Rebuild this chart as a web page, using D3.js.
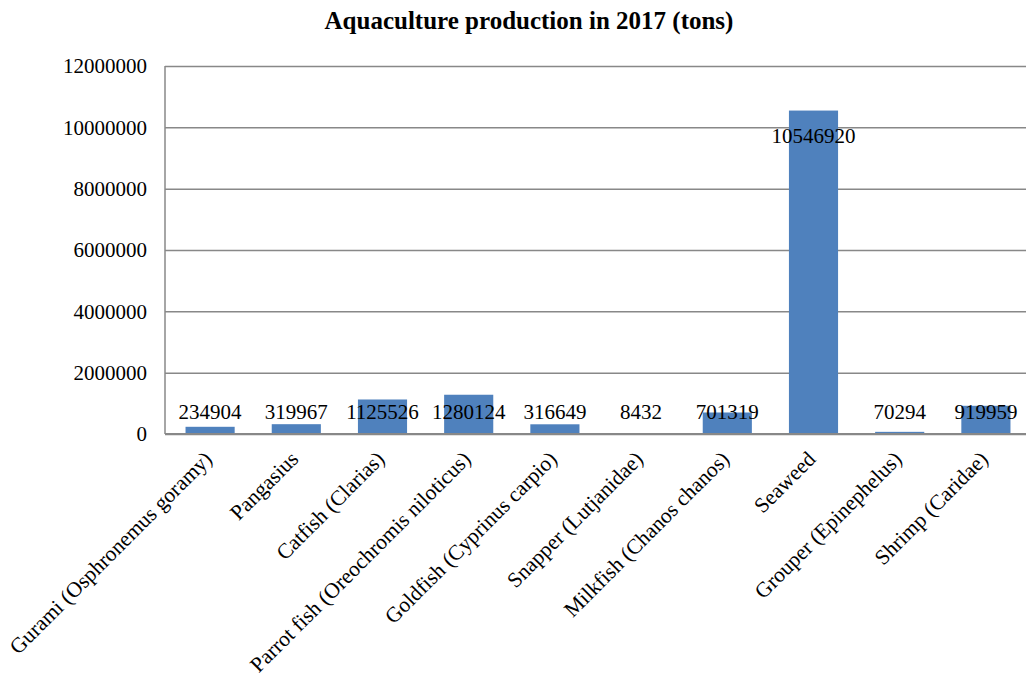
<!DOCTYPE html>
<html>
<head>
<meta charset="utf-8">
<script src="https://cdnjs.cloudflare.com/ajax/libs/d3/7.8.5/d3.min.js"></script>
<style>
  body { margin: 0; background: #fff; }
  svg { display: block; font-family: "Liberation Serif", "Times New Roman", serif; }
  .y-grid .domain { display: none; }
  .y-grid line { stroke: #888; stroke-width: 1.5px; }
  .y-grid text { font-size: 21px; fill: #000; }
  .x-axis .domain { stroke: #888; stroke-width: 2px; }
  .x-axis line { display: none; }
  .x-axis text { font-size: 21.5px; fill: #000; }
</style>
</head>
<body>
<svg id="chart" width="1026" height="673"></svg>
<script>
var categories = [
  "Gurami (Osphronemus goramy)",
  "Pangasius",
  "Catfish (Clarias)",
  "Parrot fish (Oreochromis niloticus)",
  "Goldfish (Cyprinus carpio)",
  "Snapper (Lutjanidae)",
  "Milkfish (Chanos chanos)",
  "Seaweed",
  "Grouper (Epinephelus)",
  "Shrimp (Caridae)"
];
var production = [234904, 319967, 1125526, 1280124, 316649, 8432, 701319, 10546920, 70294, 919959];
var yTicks = [0, 2000000, 4000000, 6000000, 8000000, 10000000, 12000000];

var svg = d3.select("#chart");
var plotLeft = 165, plotRight = 1027, plotTop = 66, plotBottom = 434;
var serif = "'Liberation Serif', 'Times New Roman', serif";

var x = d3.scaleBand()
    .domain(categories)
    .range([plotLeft + 2, plotRight + 2])
    .paddingInner(0.43)
    .paddingOuter(0.215);

var y = d3.scaleLinear()
    .domain([0, 12000000])
    .range([plotBottom, plotTop]);

// title
svg.append("text")
  .attr("x", 529)
  .attr("y", 29)
  .attr("text-anchor", "middle")
  .style("font-size", "25px")
  .style("font-weight", "bold")
  .text("Aquaculture production in 2017 (tons)");

// horizontal grid + y labels
svg.append("g")
  .attr("class", "y-grid")
  .attr("transform", "translate(" + plotLeft + ",0)")
  .call(d3.axisLeft(y).tickValues(yTicks).tickSize(-(plotRight - plotLeft)).tickPadding(18).tickFormat(d3.format("d")))
  .attr("font-family", serif);

// left axis line
svg.append("line")
  .attr("x1", plotLeft).attr("x2", plotLeft)
  .attr("y1", plotTop).attr("y2", plotBottom)
  .style("stroke", "#888")
  .style("stroke-width", "1.5px");

// bars
svg.selectAll("rect.bar")
  .data(production)
  .enter()
  .append("rect")
  .attr("class", "bar")
  .attr("x", function(d, i) { return x(categories[i]); })
  .attr("width", x.bandwidth())
  .attr("y", function(d) { return y(d); })
  .attr("height", function(d) { return y(0) - y(d); })
  .attr("fill", "#4f81bd");

// x axis
var xAxis = svg.append("g")
  .attr("class", "x-axis")
  .attr("transform", "translate(0," + plotBottom + ")")
  .call(d3.axisBottom(x).tickSize(0).tickPadding(0))
  .attr("font-family", serif);

xAxis.select(".domain").attr("d", "M" + plotLeft + ",0H" + plotRight);

xAxis.selectAll("text")
  .attr("transform", "translate(-2,21) rotate(-45)")
  .attr("dy", "0.35em")
  .attr("y", 0)
  .attr("x", 0)
  .style("text-anchor", "end");

// value labels
svg.selectAll("text.value")
  .data(production)
  .enter()
  .append("text")
  .attr("class", "value")
  .attr("x", function(d, i) { return x(categories[i]) + x.bandwidth() / 2; })
  .attr("y", function(d) { return Math.min(y(d) + 25, y(0) - 22); })
  .attr("dy", "0.35em")
  .attr("text-anchor", "middle")
  .style("font-size", "21px")
  .text(function(d) { return d; });
</script>
</body>
</html>
